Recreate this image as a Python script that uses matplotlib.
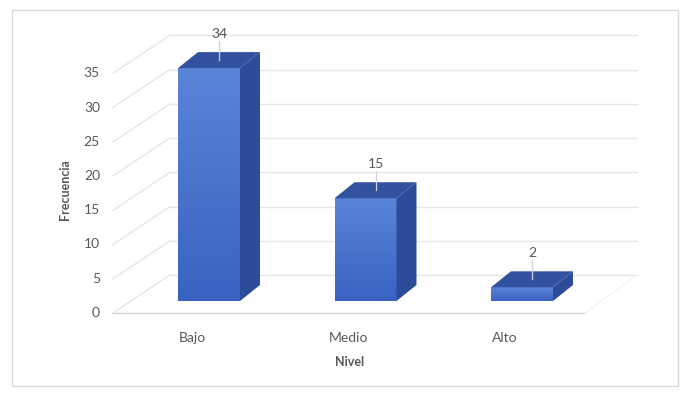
import matplotlib.pyplot as plt
import numpy as np
from matplotlib.patches import Polygon, Rectangle
from matplotlib.colors import LinearSegmentedColormap

plt.rcParams['font.family'] = ['Lato', 'DejaVu Sans']

niveles = ['Bajo', 'Medio', 'Alto']
frecuencia = [34, 15, 2]
ticks_y = [0, 5, 10, 15, 20, 25, 30, 35]

W, H = 688, 396
fig = plt.figure(figsize=(W / 100, H / 100), dpi=100)
ax = fig.add_axes([0, 0, 1, 1])

# fake 3d: the bars' front plane is mapped linearly onto pixels
x0_px, step_px = 209, 156.5
y0_px, unit_px = 301, 6.85
xlim = (-x0_px / step_px, (W - x0_px) / step_px)
ylim = ((y0_px - H) / unit_px, y0_px / unit_px)


def px(dx, dy):
    return dx / step_px, dy / unit_px


def xpx(p):
    return (p - x0_px) / step_px


front = px(-16, -12)   # floor front edge relative to bar plane
back = px(41, 26)      # back wall relative to bar plane
depth = px(20, 16)     # depth of one bar
half = 0.198
grid_c = '#e6e6e6'
text_c = '#595959'

# back wall gridlines + side wall diagonals
left_f, left_b, right_b, right_f = xpx(113), xpx(170), xpx(637), xpx(585)
for v in ticks_y:
    ax.plot([left_f, left_b], [v + front[1], v + back[1]], color=grid_c, lw=1)
    ax.plot([left_b, right_b], [v + back[1], v + back[1]], color=grid_c, lw=1)
    ax.text(xpx(100), v + front[1], str(v), ha='right', va='center',
            fontsize=10, color=text_c)
# floor
ax.plot([left_f, right_f], [front[1], front[1]], color='#d6d6d6', lw=1)
ax.plot([right_f, right_b], [front[1], back[1]], color='#f4f4f4', lw=0.8)

cmap = LinearSegmentedColormap.from_list('front', ['#3a62c2', '#5a84d8'])
grad = np.linspace(0, 1, 100).reshape(-1, 1)
dx, dy = depth
for i, (nivel, v) in enumerate(zip(niveles, frecuencia)):
    xa, xb = i - half, i + half
    ax.imshow(grad, extent=[xa, xb, 0, v], origin='lower', cmap=cmap,
              aspect='auto', zorder=3)
    ax.add_patch(Polygon([(xb, 0), (xb + dx, dy), (xb + dx, v + dy), (xb, v)],
                         closed=True, fc='#2c4c9a', ec='none', zorder=3))
    ax.add_patch(Polygon([(xa, v), (xb, v), (xb + dx, v + dy), (xa + dx, v + dy)],
                         closed=True, fc='#32529f', ec='none', zorder=3))
    # value label with leader line
    cx = i + dx / 2
    ax.plot([cx, cx], [v + dy / 2, v + dy + 11 / unit_px], color='#c8d2e8',
            lw=0.9, zorder=4)
    ax.text(cx, v + dy + 18 / unit_px, str(v), ha='center', va='center',
            fontsize=10, color=text_c, zorder=4)
    ax.text(i - 17 / step_px, (y0_px - 338) / unit_px, nivel, ha='center',
            va='center', fontsize=10, color=text_c)

ax.text(xpx(350), (y0_px - 362) / unit_px, 'Nivel', ha='center', va='center',
        fontsize=9, fontweight='bold', color=text_c)
ax.text(xpx(65), (y0_px - 190) / unit_px, 'Frecuencia', ha='center',
        va='center', rotation=90, fontsize=9, fontweight='bold', color=text_c)

ax.set_xlim(*xlim)
ax.set_ylim(*ylim)
ax.axis('off')

fig.patches.append(Rectangle((12 / W, 10 / H), 666 / W, 376 / H,
                             transform=fig.transFigure, fill=False,
                             ec='#d9d9d9', lw=1))

fig.savefig('out.png', dpi=100)
